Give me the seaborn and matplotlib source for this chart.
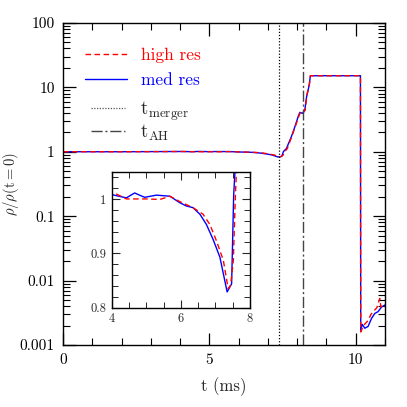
import numpy as np
import pandas as pd
import matplotlib
matplotlib.use("Agg")
import matplotlib.pyplot as plt
import seaborn as sns
from matplotlib.ticker import MultipleLocator, LogLocator, NullFormatter
from matplotlib.lines import Line2D

# ---------------- data ----------------
t_high = [0, 1, 2, 3, 4.0, 4.13, 4.42, 5.0, 5.39, 5.68, 5.97, 6.35, 6.64, 6.84, 7.03,
          7.23, 7.37, 7.44, 7.52, 7.58, 7.66, 7.82, 7.94, 8.05, 8.11, 8.19, 8.27, 8.33,
          8.42, 8.45, 10.16, 10.17, 10.22, 10.30, 10.42, 10.52, 10.62, 10.72, 10.82,
          10.86, 10.95, 11.0]
rho_high = [1.0, 1.0, 1.0, 1.003, 1.008, 1.009, 1.0, 1.0, 0.999, 1.005, 0.995, 0.984,
            0.972, 0.953, 0.923, 0.887, 0.835, 0.841, 0.887, 1.008, 1.12, 1.75, 2.5, 3.5,
            4.1, 3.95, 4.4, 7.5, 11.5, 15.1, 15.1, 0.0016, 0.0018, 0.0021, 0.0024, 0.0030,
            0.0034, 0.0038, 0.0053, 0.0039, 0.0042, 0.0040]

t_med = [0, 1, 2, 3, 4.0, 4.2, 4.42, 4.55, 4.66, 4.8, 4.95, 5.29, 5.68, 5.97, 6.16,
         6.35, 6.55, 6.74, 6.93, 7.13, 7.34, 7.47, 7.53, 7.63, 7.80, 7.92, 8.03, 8.09,
         8.18, 8.26, 8.32, 8.41, 8.45, 10.16, 10.17, 10.22, 10.31, 10.42, 10.54, 10.65,
         10.76, 10.88, 11.0]
rho_med = [1.0, 1.0, 1.0, 1.004, 1.008, 1.005, 1.002, 1.007, 1.011, 1.007, 1.003, 1.007,
           1.005, 0.993, 0.987, 0.984, 0.972, 0.953, 0.926, 0.893, 0.829, 0.844, 1.008,
           1.12, 1.71, 2.44, 3.49, 4.08, 3.94, 4.43, 7.1, 10.8, 15.1, 15.1, 0.0017, 0.0021,
           0.00183, 0.00195, 0.0026, 0.0031, 0.0033, 0.0039, 0.0042]

t_merger = 7.38
t_AH = 8.21

y_ticks = [0.001, 0.01, 0.1, 1, 10, 100]
y_tick_labels = ["0.001", "0.01", "0.1", "1", "10", "100"]
x_ticks = [0, 5, 10]
inset_x_ticks = [4, 6, 8]
inset_y_ticks = [0.8, 0.9, 1.0]
inset_y_labels = ["0.8", "0.9", "1"]

df_high = pd.DataFrame({"t": t_high, "rho": rho_high})
df_med = pd.DataFrame({"t": t_med, "rho": rho_med})

# ---------------- style ----------------
sns.set_style("ticks")
plt.rcParams["font.family"] = ["cmr10", "DejaVu Serif"]
plt.rcParams["mathtext.fontset"] = "cm"
plt.rcParams["axes.formatter.use_mathtext"] = True

fig = plt.figure(figsize=(4.07, 4.07), dpi=100)
ax = fig.add_axes([0.155, 0.152, 0.791, 0.792])

def draw(a, lw=1.0):
    sns.lineplot(data=df_med, x="t", y="rho", ax=a, color="blue", lw=lw,
                 sort=False, estimator=None)
    sns.lineplot(data=df_high, x="t", y="rho", ax=a, color="red", lw=lw,
                 sort=False, estimator=None, dashes=False, linestyle=(0, (4, 2.5)))

draw(ax)
ax.axvline(t_merger, color="black", lw=0.9, ls=(0, (1, 1.5)))
ax.axvline(t_AH, color="#444444", lw=1.0, ls=(0, (8, 2, 1.5, 2)))

ax.set_yscale("log")
ax.set_xlim(0, 11)
ax.set_ylim(0.001, 100)
ax.set_xticks(x_ticks)
ax.set_xticklabels([str(v) for v in x_ticks])
ax.xaxis.set_minor_locator(MultipleLocator(1))
ax.set_yticks(y_ticks)
ax.set_yticklabels(y_tick_labels)
ax.yaxis.set_minor_locator(LogLocator(base=10, subs=np.arange(2, 10), numticks=20))
ax.yaxis.set_minor_formatter(NullFormatter())
ax.tick_params(which="both", direction="in", top=True, right=True, colors="black",
               labelsize=11, pad=6)
ax.tick_params(which="major", length=9, width=0.9)
ax.tick_params(which="minor", length=5, width=0.8)
for s in ax.spines.values():
    s.set_linewidth(1.0)
    s.set_color("black")
ax.set_xlabel("t (ms)", fontsize=12, labelpad=7)
ax.set_ylabel(r"$\rho/\rho(\mathrm{t{=}0})$", fontsize=10.5)
ax.yaxis.set_label_coords(-0.13, 0.5)

# legends
h1 = [Line2D([], [], color="red", lw=1.0, ls=(0, (4, 2.5))),
      Line2D([], [], color="blue", lw=1.0)]
leg1 = ax.legend(h1, ["high res", "med res"], loc="upper left",
                 bbox_to_anchor=(0.02, 0.97), frameon=False, fontsize=12.5,
                 handlelength=2.4, handletextpad=0.8, labelspacing=0.55)
for txt, c in zip(leg1.get_texts(), ["red", "blue"]):
    txt.set_color(c)
ax.add_artist(leg1)
h2 = [Line2D([], [], color="#555555", lw=0.9, ls=(0, (1, 1.2))),
      Line2D([], [], color="#444444", lw=1.0, ls=(0, (8, 2, 1.5, 2)))]
ax.legend(h2, [r"$\mathrm{t_{merger}}$", r"$\mathrm{t_{AH}}$"], loc="upper left",
          bbox_to_anchor=(0.035, 0.815), frameon=False, fontsize=13.5,
          handlelength=1.8, handletextpad=0.8, labelspacing=0.0)

# inset
axin = fig.add_axes([0.275, 0.244, 0.339, 0.334])
draw(axin)
axin.set_xlim(4, 8)
axin.set_ylim(0.8, 1.05)
axin.set_xticks(inset_x_ticks)
axin.set_xticklabels([str(v) for v in inset_x_ticks])
axin.set_yticks(inset_y_ticks)
axin.set_yticklabels(inset_y_labels)
axin.xaxis.set_minor_locator(MultipleLocator(0.5))
axin.yaxis.set_minor_locator(MultipleLocator(0.02))
axin.tick_params(which="both", direction="in", top=True, right=True, labelsize=9,
                 pad=4)
axin.tick_params(which="major", length=6, width=0.8)
axin.tick_params(which="minor", length=4, width=0.7)
axin.set_xlabel("")
axin.set_ylabel("")
for s in axin.spines.values():
    s.set_linewidth(1.0)
    s.set_color("black")

fig.savefig("out.png", dpi=100)
